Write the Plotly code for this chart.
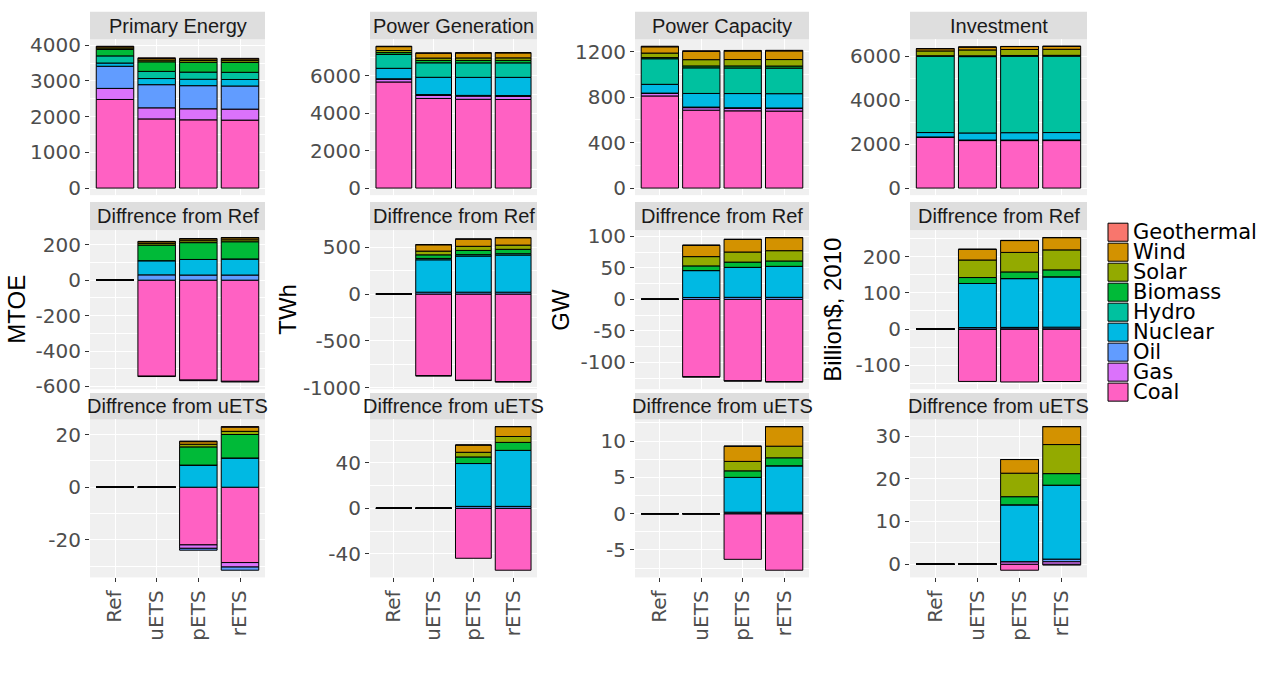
import math
import plotly.graph_objects as go

# ---------------- data ----------------
SCENARIOS = ["Ref", "uETS", "pETS", "rETS"]
SOURCES = ["Coal", "Gas", "Oil", "Nuclear", "Hydro", "Biomass", "Solar", "Wind", "Geothermal"]
SOURCE_COLORS = ["#FF61C3", "#DB72FB", "#619CFF", "#00B9E3", "#00C19F",
                 "#00BA38", "#93AA00", "#D39200", "#F8766D"]
METRICS = ["Primary Energy", "Power Generation", "Power Capacity", "Investment"]
UNITS = ["MTOE", "TWh", "GW", "Billion$, 2010"]
DIFF_TITLES = ["Diffrence from Ref", "Diffrence from uETS"]

# Primary Energy (MTOE)
PE_LEVEL = {
    "Coal": [2480, 1936, 1910, 1902], "Gas": [310, 310, 309, 308],
    "Oil": [620, 648, 647, 647], "Nuclear": [90, 172, 180, 183],
    "Hydro": [200, 200, 200, 200], "Biomass": [180, 268, 275, 277],
    "Solar": [40, 50, 51, 51], "Wind": [35, 44, 45, 46], "Geothermal": [15, 17, 17, 17],
}
PE_DREF = {
    "Coal": [0, -542, -564, -571], "Gas": [0, -2, -3.3, -3.7],
    "Oil": [0, 30, 29, 29], "Nuclear": [0, 80, 88, 91],
    "Hydro": [0, 0, 0, 0], "Biomass": [0, 88, 95, 97],
    "Solar": [0, 10, 11, 11], "Wind": [0, 9, 10, 11], "Geothermal": [0, 2, 2, 2],
}
PE_DUETS = {
    "Coal": [0, 0, -21.9, -28.6], "Gas": [0, 0, -1.3, -1.7],
    "Oil": [0, 0, -0.7, -1.2], "Nuclear": [0, 0, 8.4, 11.1],
    "Hydro": [0, 0, 0, 0], "Biomass": [0, 0, 6.9, 8.9],
    "Solar": [0, 0, 1.0, 1.2], "Wind": [0, 0, 1.0, 1.6], "Geothermal": [0, 0, 0.2, 0.2],
}

# Power Generation (TWh)
PG_LEVEL = {
    "Coal": [5670, 4790, 4746, 4736], "Gas": [150, 165, 165, 165],
    "Oil": [20, 40, 42, 42], "Nuclear": [560, 925, 963, 974],
    "Hydro": [740, 775, 775, 775], "Biomass": [100, 125, 131, 132],
    "Solar": [110, 130, 134, 135], "Wind": [210, 255, 261, 264], "Geothermal": [20, 20, 20, 20],
}
PG_DREF = {
    "Coal": [0, -870, -919, -934], "Gas": [0, -3, -3, -3],
    "Oil": [0, 20, 20, 20], "Nuclear": [0, 345, 385, 395],
    "Hydro": [0, 15, 15, 15], "Biomass": [0, 38, 45, 47],
    "Solar": [0, 40, 44, 45], "Wind": [0, 67, 76, 78], "Geothermal": [0, 3, 3, 3],
}
PG_DUETS = {
    "Coal": [0, 0, -44, -54.5], "Gas": [0, 0, 0, 0],
    "Oil": [0, 0, 1.7, 1.7], "Nuclear": [0, 0, 37.7, 49.3],
    "Hydro": [0, 0, 0, 0], "Biomass": [0, 0, 5.8, 7.0],
    "Solar": [0, 0, 4.1, 5.2], "Wind": [0, 0, 6.4, 8.7], "Geothermal": [0, 0, 0, 0],
}

# Power Capacity (GW)
PC_LEVEL = {
    "Coal": [810, 685, 679, 677], "Gas": [23, 22, 22, 22],
    "Oil": [2, 5, 5, 5], "Nuclear": [77, 120, 125, 126],
    "Hydro": [225, 225, 225, 225], "Biomass": [10, 17, 18, 18],
    "Solar": [40, 55, 56, 57], "Wind": [55, 73, 75, 76], "Geothermal": [5, 5, 5, 5],
}
PC_DREF = {
    "Coal": [0, -122.6, -129, -130.4], "Gas": [0, -0.5, -0.5, -0.5],
    "Oil": [0, 3, 3.2, 3.2], "Nuclear": [0, 42.6, 47.5, 49.1],
    "Hydro": [0, 0, 0, 0], "Biomass": [0, 7.4, 8.3, 8.5],
    "Solar": [0, 14.7, 16, 16.3], "Wind": [0, 17.9, 19.9, 20.6], "Geothermal": [0, 0.3, 0.3, 0.3],
}
PC_DUETS = {
    "Coal": [0, 0, -6.3, -7.8], "Gas": [0, 0, 0, 0],
    "Oil": [0, 0, 0.2, 0.2], "Nuclear": [0, 0, 4.8, 6.4],
    "Hydro": [0, 0, 0, 0], "Biomass": [0, 0, 0.9, 1.1],
    "Solar": [0, 0, 1.3, 1.6], "Wind": [0, 0, 2.1, 2.7], "Geothermal": [0, 0, 0, 0],
}

# Investment (Billion$, 2010)
INV_LEVEL = {
    "Coal": [2310, 2165, 2164, 2165], "Gas": [15, 15, 16, 16],
    "Oil": [5, 9, 9, 10], "Nuclear": [200, 322, 335, 339],
    "Hydro": [3480, 3480, 3480, 3480], "Biomass": [20, 36, 38, 39],
    "Solar": [220, 268, 274, 275], "Wind": [100, 130, 133, 134], "Geothermal": [5, 5, 5, 5],
}
INV_DREF = {
    "Coal": [0, -145, -146.5, -145.2], "Gas": [0, 0, 0.6, 0.6],
    "Oil": [0, 4, 4, 4.6], "Nuclear": [0, 122, 135, 139.3],
    "Hydro": [0, 0, 0, 0], "Biomass": [0, 16.5, 18.4, 19.2],
    "Solar": [0, 48.5, 54, 55.3], "Wind": [0, 29.5, 32.8, 33.8], "Geothermal": [0, 0.5, 0.5, 0.5],
}
INV_DUETS = {
    "Coal": [0, 0, -1.4, -0.2], "Gas": [0, 0, 0.6, 0.6],
    "Oil": [0, 0, 0, 0.6], "Nuclear": [0, 0, 13.3, 17.3],
    "Hydro": [0, 0, 0, 0], "Biomass": [0, 0, 1.9, 2.7],
    "Solar": [0, 0, 5.5, 6.8], "Wind": [0, 0, 3.2, 4.2], "Geothermal": [0, 0, 0, 0],
}

PANELS = [
    [PE_LEVEL, PG_LEVEL, PC_LEVEL, INV_LEVEL],
    [PE_DREF, PG_DREF, PC_DREF, INV_DREF],
    [PE_DUETS, PG_DUETS, PC_DUETS, INV_DUETS],
]
STRIP_TITLES = [METRICS, [DIFF_TITLES[0]] * 4, [DIFF_TITLES[1]] * 4]
DTICKS = [[1000, 2000, 400, 2000], [200, 500, 50, 100], [20, 40, 5, 10]]

# ---------------- layout geometry (pixels) ----------------
W, H = 1280, 682
COL_PX = [(90, 265), (370, 537), (635, 809), (910, 1087)]
PANEL_PY = [(34, 194), (230, 393), (424, 586)]
STRIP_PY = [(6, 34), (201, 230), (397, 424)]
UNIT_X = [17, 288, 561, 833]
BAR_WIDTH = 0.9
FONT = "Liberation Sans, Arial, sans-serif"
WIDE_FONT = "DejaVu Sans, Verdana, sans-serif"
PANEL_BG = "#F0F0F0"
STRIP_BG = "#DEDEDE"
TICK_COLOR = "#4D4D4D"


def fx(p):
    return p / W


def fy(p):
    return 1 - p / H


def fmt(v):
    return str(int(round(v))) if abs(v - round(v)) < 1e-9 else f"{v:g}"


fig = go.Figure()
layout = {}
shapes = []
annotations = []
xpos = list(range(len(SCENARIOS)))

for r in range(3):
    for c in range(4):
        idx = r * 4 + c + 1
        xa = "x" if idx == 1 else f"x{idx}"
        ya = "y" if idx == 1 else f"y{idx}"
        data = PANELS[r][c]
        for s, col in zip(SOURCES, SOURCE_COLORS):
            fig.add_trace(go.Bar(
                x=xpos, y=data[s], name=s, width=BAR_WIDTH,
                marker=dict(color=col, line=dict(color="black", width=1)),
                xaxis=xa, yaxis=ya, showlegend=False,
            ))
        pos = [sum(data[s][i] for s in SOURCES if data[s][i] > 0) for i in xpos]
        neg = [sum(data[s][i] for s in SOURCES if data[s][i] < 0) for i in xpos]
        for i in xpos:
            if pos[i] == 0 and neg[i] == 0:
                fig.add_trace(go.Scatter(
                    x=[i - BAR_WIDTH / 2, i + BAR_WIDTH / 2], y=[0, 0], mode="lines",
                    line=dict(color="black", width=1.2), xaxis=xa, yaxis=ya,
                    showlegend=False, hoverinfo="skip",
                ))
        lo = min(0, min(neg))
        hi = max(0, max(pos))
        pad = 0.05 * (hi - lo)
        ylo, yhi = lo - pad, hi + pad
        d = DTICKS[r][c]
        tv = [k * d for k in range(math.ceil(ylo / d), math.floor(yhi / d) + 1)]
        tt = [fmt(v) for v in tv]
        mv = [k * d / 2 for k in range(math.ceil(ylo / (d / 2)), math.floor(yhi / (d / 2)) + 1)
              if k % 2 != 0]

        x0, x1 = COL_PX[c]
        y0, y1 = PANEL_PY[r]
        xkey = "xaxis" if idx == 1 else f"xaxis{idx}"
        ykey = "yaxis" if idx == 1 else f"yaxis{idx}"
        layout[xkey] = dict(
            domain=[fx(x0), fx(x1)], anchor=ya, range=[-0.6, len(SCENARIOS) - 0.4],
            tickmode="array", tickvals=xpos, ticktext=SCENARIOS,
            showticklabels=(r == 2), ticks="outside" if r == 2 else "",
            ticklen=4, tickcolor="#333333", tickangle=-90,
            tickfont=dict(size=20, color=TICK_COLOR, family=WIDE_FONT),
            showgrid=True, gridcolor="white", gridwidth=1.1, zeroline=False,
            showline=False, fixedrange=True,
        )
        layout[ykey] = dict(
            domain=[fy(y1), fy(y0)], anchor=xa, range=[ylo, yhi],
            tickmode="array", tickvals=tv, ticktext=tt,
            ticks="outside", ticklen=4, tickcolor="#333333",
            tickfont=dict(size=20, color=TICK_COLOR, family=WIDE_FONT),
            showgrid=True, gridcolor="white", gridwidth=1.1, zeroline=False,
            showline=False, fixedrange=True,
            minor=dict(tickmode="array", tickvals=mv, showgrid=True,
                       gridcolor="white", gridwidth=0.5, ticks=""),
        )
        # strip
        s0, s1 = STRIP_PY[r]
        shapes.append(dict(type="rect", xref="paper", yref="paper",
                           x0=fx(x0), x1=fx(x1), y0=fy(s1), y1=fy(s0),
                           fillcolor=STRIP_BG, line=dict(width=0), layer="below"))
        annotations.append(dict(text=STRIP_TITLES[r][c], xref="paper", yref="paper",
                                x=fx((x0 + x1) / 2), y=fy((s0 + s1) / 2),
                                xanchor="center", yanchor="middle", showarrow=False,
                                font=dict(size=20, color="#1A1A1A", family=FONT)))

# unit titles (per column, centred on middle row)
for c, u in enumerate(UNITS):
    annotations.append(dict(text=u, xref="paper", yref="paper",
                            x=fx(UNIT_X[c]), y=fy(sum(PANEL_PY[1]) / 2),
                            xanchor="center", yanchor="middle", textangle=-90,
                            showarrow=False, font=dict(size=24, color="black", family=FONT)))

# manual legend (ggplot style, Geothermal on top)
LEG_KEY_X = (1108, 1128)
LEG_TEXT_X = 1131
LEG_TOP = 232
LEG_STEP = 20.5
LEG_KEY_H = 18.5
for j, (s, col) in enumerate(reversed(list(zip(SOURCES, SOURCE_COLORS)))):
    cy = LEG_TOP + j * LEG_STEP
    shapes.append(dict(type="rect", xref="paper", yref="paper",
                       x0=fx(LEG_KEY_X[0]), x1=fx(LEG_KEY_X[1]),
                       y0=fy(cy + LEG_KEY_H / 2), y1=fy(cy - LEG_KEY_H / 2),
                       fillcolor=col, line=dict(color="black", width=1)))
    annotations.append(dict(text=s, xref="paper", yref="paper",
                            x=fx(LEG_TEXT_X), y=fy(cy), xanchor="left", yanchor="middle",
                            showarrow=False, font=dict(size=21, color="black", family=WIDE_FONT)))

fig.update_layout(
    **layout,
    width=W, height=H, autosize=False,
    margin=dict(l=0, r=0, t=0, b=0),
    barmode="relative",
    plot_bgcolor=PANEL_BG, paper_bgcolor="white",
    shapes=shapes, annotations=annotations,
    showlegend=False,
    font=dict(family=FONT),
)

fig.write_html("out.html", config={"displayModeBar": False},
               post_script="document.body.style.margin='0px';")
